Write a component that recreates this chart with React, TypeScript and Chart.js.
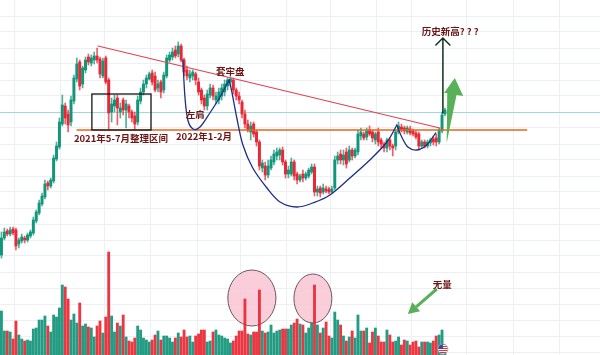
import React, { useEffect, useRef } from 'react';
import { Chart, registerables } from 'chart.js';

Chart.register(...registerables);

// ---- candle data (price units) ----
const openP = [100,117,124,121,126,125,111,114,117,115,119,122,134,142,151,158,172,169,174,196,208,231,249,241,233,254,276,293,271,285,298,292,295,299,296,279,297,275,243,249,257,243,255,245,249,243,239,233,254,263,271,276,282,279,267,273,265,279,295,298,305,301,309,295,285,277,279,281,273,265,257,249,260,267,255,255,259,263,269,273,275,265,259,253,241,231,223,231,223,213,187,189,180,187,193,199,200,205,193,181,181,193,181,175,181,177,179,183,188,163,167,163,166,166,163,167,195,201,195,203,195,205,199,203,219,221,218,225,223,215,223,215,211,207,215,209,209,223,228,227,223,226,224,222,221,209,213,209,212,216,217,213,224,241];
const closeP = [117,123,121,125,122,109,115,118,115,120,123,135,143,152,159,171,169,175,197,209,233,250,237,230,255,277,291,269,287,295,293,297,299,295,281,294,273,242,251,255,247,247,245,251,243,237,231,255,263,271,277,281,273,265,271,263,280,297,300,303,299,309,295,283,279,281,283,275,263,255,249,261,267,259,259,263,267,271,275,276,265,259,255,241,231,225,229,221,213,189,192,180,189,195,201,203,205,193,181,185,193,179,175,179,177,181,185,188,163,166,162,167,164,163,166,195,199,195,200,191,205,199,205,221,223,217,224,221,217,221,213,211,207,215,209,207,223,229,225,224,227,222,221,218,209,213,209,213,215,213,213,225,240,245];
const highP = [123,127,126,128,128,127,117,121,119,122,125,138,145,155,162,175,174,177,200,213,237,260,252,245,259,280,297,295,289,298,301,300,303,307,298,297,299,277,257,260,260,252,257,255,251,245,243,259,267,275,280,283,285,283,275,275,283,300,303,307,309,313,311,297,289,285,285,283,277,267,260,265,271,270,263,267,271,275,277,278,277,267,263,255,245,235,233,233,225,215,195,193,195,199,205,207,207,208,195,189,197,195,183,181,185,183,187,191,191,169,169,171,169,168,169,199,203,205,205,207,209,207,207,225,227,223,227,229,225,223,227,217,213,217,217,211,225,233,231,229,229,229,226,224,223,215,215,215,217,219,221,227,243,247];
const lowP = [97,115,119,119,120,105,107,112,112,113,117,120,132,140,149,156,165,167,172,194,206,229,231,223,229,251,273,265,267,282,290,289,291,292,277,277,271,225,233,243,230,237,240,227,237,233,225,230,251,260,267,275,270,263,263,257,262,277,293,295,297,298,293,279,275,273,275,270,260,251,245,245,257,255,251,251,255,259,265,269,261,255,251,237,227,223,215,218,209,185,183,175,177,185,190,195,195,190,177,177,179,175,171,173,173,175,177,181,159,159,158,161,162,161,162,165,191,191,190,187,193,195,197,200,215,215,215,219,213,211,209,207,203,203,205,199,205,221,223,221,221,220,219,216,205,207,207,207,209,210,209,211,222,239];
const volume = [44,24,24,23,16,34,20,16,14,15,14,26,27,35,35,39,29,23,40,38,47,70,68,56,35,41,32,52,29,31,28,27,18,29,34,22,38,103,39,23,32,29,40,18,14,13,17,29,25,17,15,13,15,20,24,15,19,19,17,13,17,22,18,25,18,19,13,19,21,25,25,13,14,23,25,20,19,17,16,12,14,19,24,24,56,21,20,23,23,65,24,22,23,30,22,24,25,26,26,26,30,32,36,31,30,22,27,32,70,30,22,27,33,19,17,43,35,30,19,14,18,24,17,40,24,24,27,12,23,27,19,13,13,25,20,13,14,18,10,15,14,10,13,14,8,13,13,13,12,14,19,20,25,8];

const SLOTS = 207;
const labels = Array.from({ length: SLOTS }, (_, i) => String(i));
const priceGrid = [3,19,35,51,67,83,99,115,131,147,163,179,195,211,227,243,259,275,291,307,323,339];
const timeGrid = [5,21,36,52,68,83,99,114,130,142,161,177,193];

// ---- annotation anchors (candle index, price / volume units) ----
const trendIdx = [33.3, 151.2];
const trendVal = [309, 227];
const supportIdx = [26.1, 181.2];
const supportVal = 225;
const boxIdx = [31.2, 51.6];
const boxVal = [225, 261];
const lastLevel = 242.5;
const shoulderIdx = [62.6, 63.3, 64.3, 66.1, 68.5, 71.9, 75.4, 78.5];
const shoulderVal = [295, 258, 235, 226, 228, 242, 258, 275];
const cupIdx = [78.5, 79.5, 81.2, 83.3, 86.7, 91.6, 96.1, 101.9, 107.4, 113.3, 120.2, 127.1, 133, 136.4];
const cupVal = [275, 263, 237, 210, 187, 167, 153, 148, 152, 160, 177, 195, 213, 230];
const handleIdx = [136.4, 138.1, 140.2, 143.3, 146.7, 149.8];
const handleVal = [230, 218, 208, 205, 210, 222];
const volCircles = [
  { i0: 78.1, i1: 94.7, v0: 29, v1: 85 },
  { i0: 100.9, i1: 114, v0: 32, v1: 81 },
];
const targetArrow = { idx: 152.3, from: 242, to: 317 };
const volArrow = { fromIdx: 150.2, fromVal: 66, toIdx: 140.2, toVal: 41 };
const textLabels = [
  { text: '2021年5-7月整理区间', idx: 25, val: 217, axis: 'y' },
  { text: '2022年1-2月', idx: 60.2, val: 219, axis: 'y' },
  { text: '左肩', idx: 63.6, val: 241, axis: 'y' },
  { text: '套牢盘', idx: 74, val: 284, axis: 'y' },
  { text: '历史新高? ? ?', idx: 145, val: 324, axis: 'y' },
  { text: '无量', idx: 148.8, val: 71, axis: 'v' },
];

const GREEN = '#11967a';
const RED = '#ec2634';

function smoothPath(ctx: CanvasRenderingContext2D, pts: number[][]) {
  ctx.beginPath();
  ctx.moveTo(pts[0][0], pts[0][1]);
  for (let i = 0; i < pts.length - 1; i++) {
    const p0 = pts[i - 1] || pts[i];
    const p1 = pts[i];
    const p2 = pts[i + 1];
    const p3 = pts[i + 2] || p2;
    ctx.bezierCurveTo(
      p1[0] + (p2[0] - p0[0]) / 6, p1[1] + (p2[1] - p0[1]) / 6,
      p2[0] - (p3[0] - p1[0]) / 6, p2[1] - (p3[1] - p1[1]) / 6,
      p2[0], p2[1]
    );
  }
  ctx.stroke();
}

const annotations = {
  id: 'annotations',
  beforeDatasetsDraw(chart: any) {
    const { ctx, chartArea } = chart;
    const X = (i: number) => chart.scales.x.getPixelForValue(i);
    const Y = (v: number) => chart.scales.y.getPixelForValue(v);
    const V = (v: number) => chart.scales.v.getPixelForValue(v);
    ctx.save();
    ctx.strokeStyle = 'rgba(120,205,200,0.65)';
    ctx.lineWidth = 1;
    ctx.beginPath();
    ctx.moveTo(chartArea.left, Y(lastLevel));
    ctx.lineTo(chartArea.right, Y(lastLevel));
    ctx.stroke();
    for (const c of volCircles) {
      const x0 = X(c.i0), x1 = X(c.i1), y0 = V(c.v1), y1 = V(c.v0);
      ctx.beginPath();
      ctx.ellipse((x0 + x1) / 2, (y0 + y1) / 2, (x1 - x0) / 2, (y1 - y0) / 2, 0, 0, Math.PI * 2);
      ctx.fillStyle = 'rgba(248,200,214,0.9)';
      ctx.fill();
      ctx.strokeStyle = '#6d5560';
      ctx.lineWidth = 1;
      ctx.stroke();
    }
    ctx.restore();
  },
  afterDatasetsDraw(chart: any) {
    const { ctx } = chart;
    const X = (i: number) => chart.scales.x.getPixelForValue(i);
    const Y = (v: number) => chart.scales.y.getPixelForValue(v);
    const V = (v: number) => chart.scales.v.getPixelForValue(v);
    ctx.save();
    ctx.lineCap = 'round';
    // support line
    ctx.strokeStyle = '#e8651f';
    ctx.lineWidth = 1.5;
    ctx.beginPath();
    ctx.moveTo(X(supportIdx[0]), Y(supportVal));
    ctx.lineTo(X(supportIdx[1]), Y(supportVal));
    ctx.stroke();
    // box
    ctx.strokeStyle = '#151515';
    ctx.lineWidth = 1.3;
    ctx.strokeRect(X(boxIdx[0]), Y(boxVal[1]), X(boxIdx[1]) - X(boxIdx[0]), Y(boxVal[0]) - Y(boxVal[1]));
    // trend line
    ctx.strokeStyle = '#e04352';
    ctx.lineWidth = 1.2;
    ctx.beginPath();
    ctx.moveTo(X(trendIdx[0]), Y(trendVal[0]));
    ctx.lineTo(X(trendIdx[1]), Y(trendVal[1]));
    ctx.stroke();
    // curves
    ctx.strokeStyle = '#1c2f84';
    ctx.lineWidth = 1.3;
    smoothPath(ctx, shoulderIdx.map((v, k) => [X(v), Y(shoulderVal[k])]));
    smoothPath(ctx, cupIdx.map((v, k) => [X(v), Y(cupVal[k])]));
    smoothPath(ctx, handleIdx.map((v, k) => [X(v), Y(handleVal[k])]));
    // target arrow
    const ax = X(targetArrow.idx), ay0 = Y(targetArrow.from), ay1 = Y(targetArrow.to);
    ctx.strokeStyle = '#10301a';
    ctx.lineWidth = 1.5;
    ctx.beginPath();
    ctx.moveTo(ax, ay0);
    ctx.lineTo(ax, ay1);
    ctx.moveTo(ax - 7, ay1 + 7);
    ctx.lineTo(ax, ay1);
    ctx.lineTo(ax + 7, ay1 + 7);
    ctx.stroke();
    // fat green arrow
    const bx = X(153.6), by = Y(212);
    const tx = X(156.4), ty = Y(277);
    ctx.fillStyle = '#58b158';
    ctx.beginPath();
    ctx.moveTo(bx, by);
    ctx.lineTo(X(153.8), Y(262));
    ctx.lineTo(X(152.7), Y(262));
    ctx.lineTo(tx, ty);
    ctx.lineTo(X(159.3), Y(259));
    ctx.lineTo(X(157), Y(260));
    ctx.closePath();
    ctx.fill();
    // volume arrow
    const fx = X(volArrow.fromIdx), fy = V(volArrow.fromVal);
    const px = X(volArrow.toIdx), py = V(volArrow.toVal);
    const ang = Math.atan2(py - fy, px - fx);
    const hl = 11, hw = 6;
    const baseX = px - hl * Math.cos(ang), baseY = py - hl * Math.sin(ang);
    ctx.strokeStyle = '#58b158';
    ctx.lineWidth = 3;
    ctx.lineCap = 'butt';
    ctx.beginPath();
    ctx.moveTo(fx, fy);
    ctx.lineTo(baseX, baseY);
    ctx.stroke();
    ctx.fillStyle = '#58b158';
    ctx.beginPath();
    ctx.moveTo(px, py);
    ctx.lineTo(baseX + hw * Math.sin(ang), baseY - hw * Math.cos(ang));
    ctx.lineTo(baseX - hw * Math.sin(ang), baseY + hw * Math.cos(ang));
    ctx.closePath();
    ctx.fill();
    // texts
    ctx.fillStyle = '#6e1515';
    ctx.textBaseline = 'middle';
    ctx.textAlign = 'left';
    ctx.font = 'bold 9.5px "Noto Sans CJK SC", "Noto Sans", sans-serif';
    for (const t of textLabels) {
      const yy = t.axis === 'v' ? V(t.val) : Y(t.val);
      ctx.fillText(t.text, X(t.idx), yy);
    }
    // small flag icon
    const fcx = X(152.3), fcy = V(6), r = 5;
    ctx.save();
    ctx.beginPath();
    ctx.arc(fcx, fcy, r, 0, Math.PI * 2);
    ctx.clip();
    ctx.fillStyle = '#ffffff';
    ctx.fillRect(fcx - r, fcy - r, 2 * r, 2 * r);
    ctx.fillStyle = '#e0303a';
    for (let k = 0; k < 5; k++) ctx.fillRect(fcx - r, fcy - r + k * 2, 2 * r, 1);
    ctx.fillStyle = '#2b4aa0';
    ctx.fillRect(fcx - r, fcy - r, r, r);
    ctx.restore();
    ctx.beginPath();
    ctx.arc(fcx, fcy, r, 0, Math.PI * 2);
    ctx.strokeStyle = '#9aa3b5';
    ctx.lineWidth = 0.8;
    ctx.stroke();
    ctx.restore();
  },
};

export default function App() {
  const ref = useRef<HTMLCanvasElement | null>(null);
  useEffect(() => {
    if (!ref.current) return;
    const up = closeP.map((c, i) => c >= openP[i]);
    const candleColors = up.map((u) => (u ? GREEN : RED));
    const wickColors = up.map((u) => (u ? 'rgba(17,150,122,0.75)' : 'rgba(236,38,52,0.75)'));
    const volColors = up.map((u) => (u ? 'rgba(17,148,120,0.92)' : 'rgba(234,38,50,0.92)'));
    const chart = new Chart(ref.current, {
      type: 'bar',
      data: {
        labels,
        datasets: [
          {
            data: openP.map((o, i) => [Math.min(o, closeP[i]), Math.max(o, closeP[i])]) as any,
            backgroundColor: candleColors,
            barThickness: 2.3,
            minBarLength: 1,
            grouped: false,
            yAxisID: 'y',
            order: 0,
          } as any,
          {
            data: lowP.map((l, i) => [l, highP[i]]) as any,
            backgroundColor: wickColors,
            barThickness: 1,
            grouped: false,
            yAxisID: 'y',
            order: 1,
          } as any,
          {
            data: volume,
            backgroundColor: volColors,
            barThickness: 2.2,
            grouped: false,
            yAxisID: 'v',
            order: 2,
          } as any,
        ],
      },
      options: {
        animation: false,
        responsive: false,
        events: [],
        layout: { padding: 0 },
        plugins: { legend: { display: false }, tooltip: { enabled: false } },
        scales: {
          x: {
            offset: true,
            border: { display: false },
            ticks: { display: false, autoSkip: false },
            grid: {
              offset: true,
              drawTicks: false,
              color: (c: any) => (timeGrid.includes(c.index) ? '#eceff3' : 'rgba(0,0,0,0)'),
            },
          },
          y: {
            min: 0,
            max: 355,
            border: { display: false },
            ticks: { display: false },
            grid: { drawTicks: false, color: '#eceff3' },
            afterBuildTicks: (s: any) => {
              s.ticks = priceGrid.map((v) => ({ value: v }));
            },
          },
          v: { min: 0, max: 355, display: false },
        },
      } as any,
      plugins: [annotations],
    });
    return () => chart.destroy();
  }, []);
  return (
    <div style={{ position: 'fixed', left: 0, top: 0, width: 600, height: 355, background: '#ffffff' }}>
      <canvas ref={ref} width={600} height={355} style={{ display: 'block' }} />
    </div>
  );
}
